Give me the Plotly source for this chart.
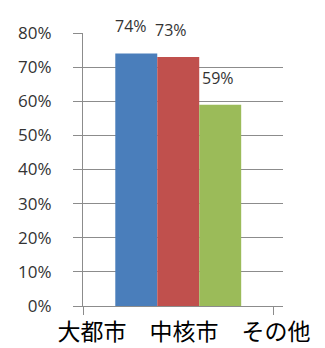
import plotly.graph_objects as go

# Share of respondents by city type
series_names = ["大都市", "中核市", "その他"]
series_values = [0.74, 0.73, 0.59]
series_colors = ["#4A7EBB", "#C0504D", "#9BBB59"]
category = ["\u2002" + "\u3000".join(series_names)]

y_ticks = [i / 10 for i in range(0, 9)]
y_ticktext = [f"{int(round(v * 100))}%" for v in y_ticks]

fig = go.Figure()
for name, val, color in zip(series_names, series_values, series_colors):
    fig.add_trace(go.Bar(
        x=category, y=[val], name=name,
        marker=dict(color=color, line=dict(width=0)),
    ))

# Data labels floating above each bar
bar_px = 42
label_dx = [-5, -7, -2]
for i, val in enumerate(series_values):
    fig.add_annotation(
        x=category[0], y=val, xref="x", yref="y",
        text=f"{int(round(val * 100))}%",
        showarrow=False,
        xshift=(i - 1) * bar_px + label_dx[i],
        yshift=27, yanchor="middle",
        font=dict(family="Open Sans", size=16, color="#333333"),
    )

grid = "#8C8C8C"
fig.update_layout(
    width=325, height=348,
    margin=dict(l=83, r=42, t=33, b=42),
    paper_bgcolor="white", plot_bgcolor="white",
    barmode="group", bargap=0.339, bargroupgap=0,
    showlegend=False,
    xaxis=dict(
        type="category", range=[-0.5, 0.55],
        showline=True, linecolor=grid, linewidth=1,
        ticks="outside", tickson="boundaries", ticklen=8, tickcolor=grid,
        showgrid=False, automargin=False, tickangle=0,
        tickfont=dict(family="Noto Sans CJK JP", size=23, color="#000000"),
        ticklabelstandoff=5,
    ),
    yaxis=dict(
        range=[0, 0.8], tickvals=y_ticks, ticktext=y_ticktext,
        showline=True, linecolor=grid, linewidth=1,
        ticks="outside", ticklen=9, tickcolor=grid,
        showgrid=True, gridcolor=grid, gridwidth=1,
        zeroline=False, automargin=False,
        tickfont=dict(family="Open Sans", size=17, color="#333333"),
        ticklabelstandoff=18,
    ),
)

fig.write_html("out.html")
